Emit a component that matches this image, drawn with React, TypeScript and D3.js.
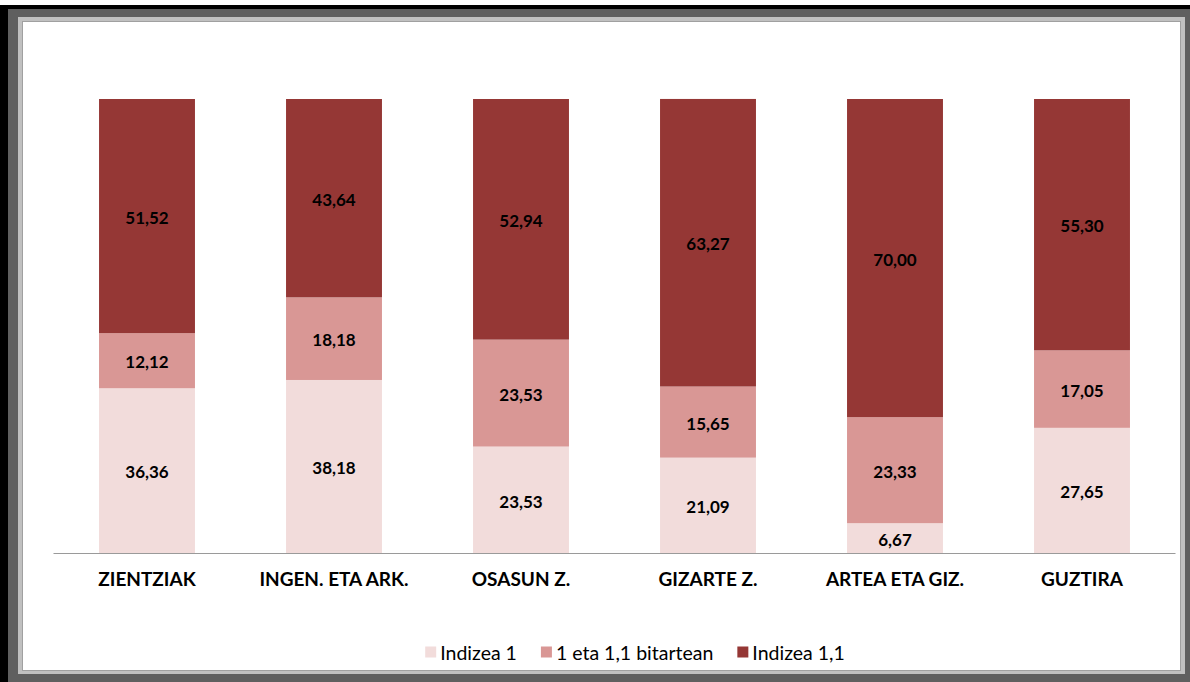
import React from "react";
import * as d3 from "d3";

const categories = ["ZIENTZIAK", "INGEN. ETA ARK.", "OSASUN Z.", "GIZARTE Z.", "ARTEA ETA GIZ.", "GUZTIRA"];
const seriesNames = ["Indizea 1", "1 eta 1,1 bitartean", "Indizea 1,1"];
const indizea1 = [36.36, 38.18, 23.53, 21.09, 6.67, 27.65];
const bitartean = [12.12, 18.18, 23.53, 15.65, 23.33, 17.05];
const indizea11 = [51.52, 43.64, 52.94, 63.27, 70.0, 55.3];
const colors = ["#f2dcdb", "#d99795", "#953735"];

const W = 1190;
const H = 682;
const FONT = "Lato, 'Open Sans', sans-serif";

function measure(text: string, font: string): number {
  const c = document.createElement("canvas");
  const ctx = c.getContext("2d");
  if (!ctx) return text.length * 8;
  ctx.font = font;
  return ctx.measureText(text).width;
}

const fmt = (v: number) => v.toFixed(2).replace(".", ",");

export default function App() {
  const rows = categories.map((c, i) => ({ cat: c, a: indizea1[i], b: bitartean[i], c: indizea11[i] }));
  const stack = d3.stack<any>().keys(["a", "b", "c"])(rows);

  const x = d3.scaleBand<string>().domain(categories).range([53.5, 1175.5]).paddingInner(0.487).paddingOuter(0.2435);
  const y = d3.scaleLinear().domain([0, 100]).range([553.5, 99]);

  const legSize = 19.5;
  const legFont = `${legSize}px ${FONT}`;
  const sq = 11;
  const gapAfterSq = 4;
  const widths = seriesNames.map((s) => sq + gapAfterSq + measure(s, legFont));
  const itemGap = 24;
  const total = d3.sum(widths) + itemGap * (seriesNames.length - 1);
  let cx = 635 - total / 2;
  const legendX = widths.map((w) => {
    const v = cx;
    cx += w + itemGap;
    return v;
  });

  return (
    <svg width={W} height={H} style={{ position: "absolute", left: 0, top: 0 }} fontFamily={FONT}>
      <rect x={0} y={0} width={W} height={H} fill="#ffffff" />
      <rect x={0} y={5} width={W} height={H - 5} fill="#000000" />
      <rect x={8} y={9} width={W - 8} height={H - 9} fill="#5f5f5f" />
      <rect x={18} y={17} width={1167} height={657} fill="#c0c0c0" />
      <rect x={22.5} y={21.5} width={1158} height={649} fill="#ffffff" stroke="#a0a0a0" strokeWidth={1} />

      {stack.map((layer, li) => (
        <g key={li}>
          {layer.map((d, i) => (
            <rect
              key={i}
              x={x(categories[i])}
              width={x.bandwidth()}
              y={y(d[1])}
              height={y(d[0]) - y(d[1])}
              fill={colors[li]}
            />
          ))}
        </g>
      ))}

      <line x1={53.5} x2={1175.5} y1={553.5} y2={553.5} stroke="#9a9a9a" strokeWidth={1.2} />

      {stack.map((layer, li) => (
        <g key={"l" + li}>
          {layer.map((d, i) => (
            <text
              key={i}
              x={(x(categories[i]) as number) + x.bandwidth() / 2}
              y={(y(d[0]) + y(d[1])) / 2 + 1}
              textAnchor="middle"
              dominantBaseline="central"
              fontSize={17}
              fontWeight="bold"
              fill="#000"
            >
              {fmt(d[1] - d[0])}
            </text>
          ))}
        </g>
      ))}

      {categories.map((c) => (
        <text
          key={c}
          x={(x(c) as number) + x.bandwidth() / 2}
          y={578}
          textAnchor="middle"
          dominantBaseline="central"
          fontSize={19}
          fontWeight="bold"
          fill="#000"
        >
          {c}
        </text>
      ))}

      {seriesNames.map((s, i) => (
        <g key={s} transform={`translate(${legendX[i]},652)`}>
          <rect x={0} y={-5.5} width={sq} height={sq} fill={colors[i]} />
          <text x={sq + gapAfterSq} y={0} dominantBaseline="central" fontSize={legSize} fill="#000">
            {s}
          </text>
        </g>
      ))}
    </svg>
  );
}
